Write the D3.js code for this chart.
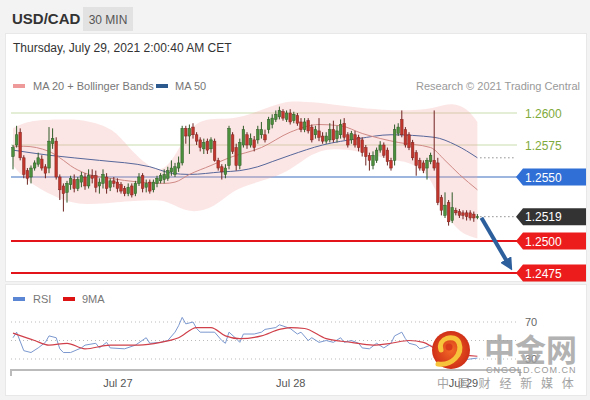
<!DOCTYPE html>
<html lang="en">
<head>
    <meta charset="UTF-8">
    <title>USD/CAD 30 MIN</title>
    <script src="https://d3js.org/d3.v7.min.js"></script>
    <style>
        body {
            margin: 0;
            padding: 0;
            background-color: #f3f3f3;
            font-family: Arial, "Liberation Sans", sans-serif;
        }
        svg { display: block; }
    </style>
</head>
<body>
    <div id="chart"></div>
    <script>
        // ---------------- data ----------------
        var symbol = "USD/CAD", period = "30 MIN";
        var stamp = "Thursday, July 29, 2021 2:00:40 AM CET";
        var firstBar = new Date(2021, 6, 26, 9, 30);   // first 30 min candle
        var barMinutes = 30;

        var open = [
            1.2566, 1.2575, 1.2585, 1.2565, 1.2555, 1.2550, 1.2557, 1.2560, 1.2564, 1.2558,
            1.2557, 1.2576, 1.2578, 1.2550, 1.2543, 1.2538, 1.2544, 1.2548, 1.2541, 1.2546,
            1.2550, 1.2543, 1.2551, 1.2551, 1.2543, 1.2545, 1.2550, 1.2542, 1.2547, 1.2546,
            1.2544, 1.2541, 1.2537, 1.2543, 1.2537, 1.2545, 1.2551, 1.2542, 1.2546, 1.2540,
            1.2545, 1.2547, 1.2548, 1.2549, 1.2554, 1.2552, 1.2557, 1.2561, 1.2588, 1.2582,
            1.2589, 1.2583, 1.2579, 1.2572, 1.2578, 1.2572, 1.2578, 1.2563, 1.2558, 1.2552,
            1.2559, 1.2583, 1.2573, 1.2559, 1.2575, 1.2583, 1.2575, 1.2579, 1.2579, 1.2583,
            1.2583, 1.2587, 1.2591, 1.2595, 1.2597, 1.2601, 1.2595, 1.2600, 1.2594, 1.2598,
            1.2593, 1.2587, 1.2594, 1.2589, 1.2583, 1.2586, 1.2582, 1.2578, 1.2579, 1.2587,
            1.2580, 1.2583, 1.2592, 1.2583, 1.2579, 1.2583, 1.2581, 1.2579, 1.2573, 1.2567,
            1.2559, 1.2563, 1.2571, 1.2575, 1.2571, 1.2563, 1.2563, 1.2584, 1.2595, 1.2587,
            1.2583, 1.2577, 1.2569, 1.2563, 1.2561, 1.2557, 1.2562, 1.2563, 1.2561, 1.2534,
            1.2520, 1.2530, 1.2516, 1.2524, 1.2523, 1.2522, 1.2522, 1.2522, 1.2521, 1.2519
        ];
        var high = [
            1.2575, 1.2590, 1.2588, 1.2567, 1.2557, 1.2559, 1.2563, 1.2569, 1.2567, 1.2560,
            1.2589, 1.2588, 1.2581, 1.2552, 1.2545, 1.2547, 1.2551, 1.2552, 1.2550, 1.2554,
            1.2553, 1.2556, 1.2556, 1.2555, 1.2549, 1.2556, 1.2553, 1.2549, 1.2550, 1.2549,
            1.2546, 1.2543, 1.2545, 1.2545, 1.2547, 1.2553, 1.2553, 1.2548, 1.2548, 1.2548,
            1.2551, 1.2553, 1.2556, 1.2558, 1.2563, 1.2561, 1.2566, 1.2590, 1.2590, 1.2591,
            1.2592, 1.2585, 1.2581, 1.2580, 1.2580, 1.2581, 1.2580, 1.2565, 1.2560, 1.2560,
            1.2590, 1.2585, 1.2576, 1.2580, 1.2590, 1.2585, 1.2584, 1.2582, 1.2590, 1.2593,
            1.2587, 1.2597, 1.2599, 1.2602, 1.2605, 1.2603, 1.2602, 1.2603, 1.2601, 1.2600,
            1.2596, 1.2596, 1.2596, 1.2591, 1.2590, 1.2596, 1.2585, 1.2585, 1.2592, 1.2594,
            1.2590, 1.2595, 1.2596, 1.2585, 1.2586, 1.2586, 1.2583, 1.2581, 1.2575, 1.2569,
            1.2570, 1.2573, 1.2578, 1.2577, 1.2573, 1.2565, 1.2591, 1.2592, 1.2602, 1.2589,
            1.2585, 1.2579, 1.2571, 1.2565, 1.2563, 1.2565, 1.2569, 1.2602, 1.2565, 1.2536,
            1.2538, 1.2532, 1.2538, 1.2526, 1.2525, 1.2524, 1.2524, 1.2524, 1.2523, 1.2521
        ];
        var low = [
            1.2556, 1.2573, 1.2563, 1.2549, 1.2544, 1.2545, 1.2555, 1.2558, 1.2555, 1.2549,
            1.2553, 1.2572, 1.2548, 1.2532, 1.2523, 1.2530, 1.2540, 1.2538, 1.2539, 1.2542,
            1.2540, 1.2541, 1.2545, 1.2538, 1.2537, 1.2541, 1.2537, 1.2539, 1.2542, 1.2538,
            1.2537, 1.2535, 1.2535, 1.2534, 1.2535, 1.2543, 1.2538, 1.2538, 1.2537, 1.2538,
            1.2542, 1.2545, 1.2545, 1.2547, 1.2551, 1.2550, 1.2554, 1.2559, 1.2576, 1.2568,
            1.2580, 1.2575, 1.2570, 1.2568, 1.2568, 1.2569, 1.2562, 1.2555, 1.2548, 1.2549,
            1.2556, 1.2568, 1.2555, 1.2556, 1.2573, 1.2572, 1.2573, 1.2570, 1.2576, 1.2580,
            1.2577, 1.2584, 1.2588, 1.2593, 1.2595, 1.2594, 1.2593, 1.2591, 1.2592, 1.2590,
            1.2585, 1.2585, 1.2584, 1.2577, 1.2580, 1.2578, 1.2576, 1.2576, 1.2577, 1.2577,
            1.2577, 1.2580, 1.2579, 1.2573, 1.2576, 1.2573, 1.2570, 1.2566, 1.2559, 1.2555,
            1.2556, 1.2561, 1.2569, 1.2565, 1.2559, 1.2555, 1.2559, 1.2582, 1.2581, 1.2573,
            1.2571, 1.2563, 1.2551, 1.2555, 1.2553, 1.2548, 1.2560, 1.2555, 1.2528, 1.2520,
            1.2518, 1.2512, 1.2514, 1.2520, 1.2518, 1.2517, 1.2516, 1.2516, 1.2515, 1.2517
        ];
        var close = [
            1.2573, 1.2583, 1.2565, 1.2552, 1.2549, 1.2557, 1.2561, 1.2565, 1.2557, 1.2553,
            1.2578, 1.2580, 1.2550, 1.2540, 1.2537, 1.2545, 1.2549, 1.2541, 1.2548, 1.2551,
            1.2543, 1.2551, 1.2549, 1.2542, 1.2546, 1.2552, 1.2541, 1.2547, 1.2545, 1.2541,
            1.2539, 1.2537, 1.2542, 1.2536, 1.2545, 1.2550, 1.2541, 1.2545, 1.2539, 1.2546,
            1.2549, 1.2551, 1.2552, 1.2555, 1.2557, 1.2558, 1.2561, 1.2588, 1.2582, 1.2588,
            1.2583, 1.2578, 1.2573, 1.2577, 1.2571, 1.2579, 1.2563, 1.2557, 1.2554, 1.2557,
            1.2588, 1.2570, 1.2559, 1.2577, 1.2587, 1.2575, 1.2580, 1.2573, 1.2587, 1.2587,
            1.2579, 1.2595, 1.2596, 1.2599, 1.2602, 1.2596, 1.2600, 1.2593, 1.2599, 1.2592,
            1.2587, 1.2593, 1.2586, 1.2579, 1.2587, 1.2581, 1.2578, 1.2582, 1.2587, 1.2579,
            1.2586, 1.2591, 1.2581, 1.2575, 1.2584, 1.2575, 1.2573, 1.2569, 1.2566, 1.2563,
            1.2567, 1.2571, 1.2575, 1.2567, 1.2562, 1.2557, 1.2587, 1.2589, 1.2583, 1.2575,
            1.2573, 1.2565, 1.2559, 1.2557, 1.2555, 1.2563, 1.2567, 1.2557, 1.2530, 1.2524,
            1.2528, 1.2515, 1.2526, 1.2522, 1.2520, 1.2520, 1.2519, 1.2518, 1.2518, 1.2519
        ];

        // moving averages / bands at some bars (bar index, price)
        var ma20Idx = [0, 3, 10, 13, 17, 21, 27, 35, 42, 45, 49, 55, 60, 69, 77, 85, 91, 97, 107, 116, 120, 124, 129];
        var ma20 = [1.2574, 1.2574, 1.2570, 1.2565, 1.2557, 1.2552, 1.2549, 1.2546, 1.2545, 1.2546, 1.2552, 1.2559, 1.2565,
            1.2573, 1.2585, 1.2591, 1.2590, 1.2584, 1.2577, 1.2573, 1.2563, 1.2552, 1.2540];
        var ma50Idx = [0, 10, 24, 38, 44, 49, 58, 63, 68, 72, 77, 86, 96, 105, 117, 123, 129];
        var ma50 = [1.2571, 1.2567, 1.2563, 1.2558, 1.2553, 1.2552, 1.2554, 1.2555, 1.2558, 1.2562, 1.2567, 1.2575,
            1.2580, 1.2583, 1.2581, 1.2575, 1.2565];
        var bandIdx = [0, 4, 13, 20, 28, 32, 38, 42, 46, 50, 56, 61, 68, 75, 80, 86, 96, 105, 110, 115, 118, 122, 126, 129];
        var bandUp = [1.2588, 1.2594, 1.2595, 1.2595, 1.2588, 1.2573, 1.2557, 1.2554, 1.2571, 1.2593, 1.2596, 1.2595,
            1.2601, 1.2609, 1.2609, 1.2608, 1.2604, 1.2602, 1.2602, 1.2603, 1.2605, 1.2608, 1.2604, 1.2593];
        var bandLow = [1.2559, 1.2546, 1.2532, 1.2528, 1.2530, 1.2531, 1.2532, 1.2532, 1.2526, 1.2522, 1.2526, 1.2540,
            1.2546, 1.2552, 1.2562, 1.2573, 1.2571, 1.2563, 1.2562, 1.2554, 1.2536, 1.2512, 1.2504, 1.2502];

        // RSI panel
        var rsiIdx = [0, 1, 3, 5, 7, 9, 10, 12, 13, 14, 16, 19, 20, 23, 24, 26, 27, 31, 34, 37, 38, 41, 43, 45, 46, 47,
            48, 50, 51, 52, 56, 58, 59, 60, 62, 63, 64, 67, 69, 70, 73, 74, 77, 79, 80, 82, 83, 85, 87, 89, 91, 92, 94,
            96, 97, 99, 101, 103, 105, 106, 108, 109, 110, 112, 113, 114, 116, 118, 121, 125, 129];
        var rsi = [53, 59, 39, 37, 42, 48, 55, 53, 41, 37, 37, 42, 45, 47, 42, 48, 42, 41, 45, 53, 47, 48, 50, 59, 66, 75,
            68, 70, 63, 59, 59, 50, 47, 59, 52, 48, 57, 57, 59, 62, 64, 67, 63, 57, 59, 50, 53, 48, 50, 48, 53, 48, 50,
            47, 42, 41, 47, 42, 47, 55, 59, 52, 47, 45, 41, 42, 45, 36, 31, 29, 31];
        var rsiMaIdx = [0, 6, 10, 15, 20, 27, 35, 41, 46, 51, 55, 59, 63, 69, 74, 77, 81, 87, 94, 100, 105, 110, 114, 117, 122, 129];
        var rsiMa = [58, 50, 45, 47, 41, 45, 45, 48, 53, 64, 64, 55, 52, 55, 62, 64, 63, 52, 48, 45, 47, 50, 48, 42, 36, 33];
        var rsiGuides = [70, 50, 30];
        var rsiLabels = [70, 30];

        // key levels
        var levels = [1.2600, 1.2575, 1.2550, 1.2500, 1.2475];
        var levelKind = ["res", "res", "pivot", "sup", "sup"];
        var lastPrice = 1.2519;
        var dayTicks = [new Date(2021, 6, 27), new Date(2021, 6, 28), new Date(2021, 6, 29)];

        // ---------------- layout ----------------
        var W = 590, H = 400;
        var svg = d3.select("#chart").append("svg")
            .attr("width", W).attr("height", H);
        var defs = svg.append("defs");

        var lastBar = d3.timeMinute.offset(firstBar, barMinutes * (close.length - 1));
        var x = d3.scaleTime().domain([firstBar, lastBar]).range([13, 477.4]);
        function xi(i) { return x(d3.timeMinute.offset(firstBar, barMinutes * i)); }
        var y = d3.scaleLinear().domain([1.2475, 1.2600]).range([273, 113]);
        var yr = d3.scaleLinear().domain([30, 70]).range([359, 322]);

        // panels
        svg.append("rect").attr("x", 0).attr("y", 0).attr("width", W).attr("height", 33).attr("fill", "#f3f3f3");
        svg.append("rect").attr("x", 5.5).attr("y", 33.5).attr("width", 581).attr("height", 248)
            .attr("fill", "#fff").attr("stroke", "#e8e8e8");
        svg.append("rect").attr("x", 5.5).attr("y", 284.5).attr("width", 581).attr("height", 111)
            .attr("fill", "#fff").attr("stroke", "#e8e8e8");

        // header
        svg.append("text").attr("x", 12).attr("y", 24).text(symbol)
            .style("font-size", "15px").style("font-weight", "bold").attr("fill", "#333");
        svg.append("rect").attr("x", 83).attr("y", 7).attr("width", 50).attr("height", 24).attr("fill", "#e2e2e2");
        svg.append("text").attr("x", 108).attr("y", 23.5).attr("text-anchor", "middle").text(period)
            .style("font-size", "12px").attr("fill", "#555");
        svg.append("text").attr("x", 13).attr("y", 52).text(stamp)
            .style("font-size", "12px").attr("fill", "#333");

        // legend main
        var leg = svg.append("g").style("font-size", "11px").attr("fill", "#777");
        leg.append("rect").attr("x", 13).attr("y", 84).attr("width", 12).attr("height", 4).attr("fill", "#ef9a9a");
        leg.append("text").attr("x", 33).attr("y", 90).text("MA 20 + Bollinger Bands");
        leg.append("rect").attr("x", 156).attr("y", 84).attr("width", 12).attr("height", 4).attr("fill", "#2c5a8e");
        leg.append("text").attr("x", 175).attr("y", 90).text("MA 50");
        leg.append("text").attr("x", 580).attr("y", 90).attr("text-anchor", "end").attr("fill", "#999")
            .text("Research \u00a9 2021 Trading Central");

        // level lines
        var lineColor = { res: "#c9dbab", pivot: "#3a6fbf", sup: "#e3151b" };
        levels.forEach(function (v, k) {
            svg.append("line")
                .attr("x1", 11).attr("x2", 517)
                .attr("y1", y(v)).attr("y2", y(v))
                .attr("stroke", lineColor[levelKind[k]])
                .attr("stroke-width", levelKind[k] == "sup" ? 2 : 1.2);
        });

        // bollinger band
        var band = bandIdx.map(function (b, k) { return { i: b, hi: bandUp[k], lo: bandLow[k] }; });
        svg.append("path").datum(band)
            .attr("d", d3.area().x(function (d) { return xi(d.i); })
                .y0(function (d) { return y(d.lo); })
                .y1(function (d) { return y(d.hi); })
                .curve(d3.curveBasis))
            .attr("fill", "#f4a8a8").attr("opacity", 0.3);

        // moving averages
        function maLine(idx, vals, color) {
            var pts = idx.map(function (b, k) { return [xi(b), y(vals[k])]; });
            svg.append("path").datum(pts)
                .attr("d", d3.line().curve(d3.curveMonotoneX))
                .attr("fill", "none").attr("stroke", color).attr("stroke-width", 1);
        }
        maLine(ma50Idx, ma50, "#56679a");
        maLine(ma20Idx, ma20, "#cf8b86");

        // candles
        var bars = d3.range(close.length);
        var up = function (i) { return close[i] >= open[i]; };
        svg.append("g").selectAll("line").data(bars).enter().append("line")
            .attr("x1", function (i) { return xi(i); }).attr("x2", function (i) { return xi(i); })
            .attr("y1", function (i) { return y(high[i]); }).attr("y2", function (i) { return y(low[i]); })
            .attr("stroke", function (i) { return up(i) ? "#2f5a27" : "#6e2420"; })
            .attr("stroke-width", 1);
        svg.append("g").selectAll("rect").data(bars).enter().append("rect")
            .attr("x", function (i) { return xi(i) - 1.3; })
            .attr("width", 2.6)
            .attr("y", function (i) { return y(Math.max(open[i], close[i])); })
            .attr("height", function (i) { return Math.max(1, Math.abs(y(open[i]) - y(close[i]))); })
            .attr("fill", function (i) { return up(i) ? "#4b8f3c" : "#c2352c"; })
            .attr("stroke", function (i) { return up(i) ? "#2f5a27" : "#7e2621"; })
            .attr("stroke-width", 0.5);

        // dotted projections
        var endX = xi(close.length - 1);
        svg.append("line").attr("x1", endX + 3).attr("x2", 515)
            .attr("y1", y(ma50[ma50.length - 1])).attr("y2", y(ma50[ma50.length - 1]))
            .attr("stroke", "#555").attr("stroke-dasharray", "1,3");
        svg.append("line").attr("x1", endX + 3).attr("x2", 515)
            .attr("y1", y(lastPrice)).attr("y2", y(lastPrice))
            .attr("stroke", "#555").attr("stroke-dasharray", "1,3");

        // arrow toward the target
        defs.append("marker")
            .attr("id", "head").attr("viewBox", "0 0 10 10")
            .attr("refX", 5).attr("refY", 5)
            .attr("markerWidth", 3.2).attr("markerHeight", 3.2)
            .attr("orient", "auto")
            .append("path").attr("d", "M0,0 L10,5 L0,10 Z").attr("fill", "#2e5f9d");
        svg.append("line")
            .attr("x1", endX + 4).attr("y1", y(lastPrice) + 1)
            .attr("x2", 509).attr("y2", y(levels[4]) - 8)
            .attr("stroke", "#2e5f9d").attr("stroke-width", 4)
            .attr("marker-end", "url(#head)");

        // right labels
        function tag(v, fill) {
            var yc = y(v), h = 17, xl = 516;
            svg.append("path")
                .attr("d", "M" + xl + "," + yc + "L" + (xl + 7) + "," + (yc - h / 2) + "H586V" + (yc + h / 2) + "H" + (xl + 7) + "Z")
                .attr("fill", fill);
            svg.append("text").attr("x", 525).attr("y", yc + 4.5).text(v.toFixed(4))
                .style("font-size", "12px").attr("fill", "#fff");
        }
        levels.forEach(function (v, k) {
            if (levelKind[k] == "res") {
                svg.append("text").attr("x", 525).attr("y", y(v) + 4.5).text(v.toFixed(4))
                    .style("font-size", "12px").attr("fill", "#7faa3c");
            }
        });
        tag(levels[2], "#2f6fd6");
        tag(lastPrice, "#333333");
        tag(levels[3], "#ec1c1c");
        tag(levels[4], "#ec1c1c");

        // ---------------- RSI panel ----------------
        var rl = svg.append("g").style("font-size", "11px").attr("fill", "#777");
        rl.append("rect").attr("x", 13).attr("y", 297).attr("width", 12).attr("height", 4).attr("fill", "#5b86d4");
        rl.append("text").attr("x", 33).attr("y", 303).text("RSI");
        rl.append("rect").attr("x", 63).attr("y", 297).attr("width", 12).attr("height", 4).attr("fill", "#dd1313");
        rl.append("text").attr("x", 82).attr("y", 303).text("9MA");

        rsiGuides.forEach(function (g) {
            svg.append("line").attr("x1", 11).attr("x2", 516).attr("y1", yr(g)).attr("y2", yr(g))
                .attr("stroke", "#bbb").attr("stroke-dasharray", "1,3");
        });
        rsiLabels.forEach(function (g) {
            svg.append("text").attr("x", 525).attr("y", yr(g) + 4).text(g)
                .style("font-size", "11px").attr("fill", "#666");
        });

        var rsiPts = rsiIdx.map(function (b, k) { return [xi(b), yr(rsi[k])]; });
        svg.append("path").datum(rsiPts).attr("d", d3.line())
            .attr("fill", "none").attr("stroke", "#7b98cf").attr("stroke-width", 1);
        var maPts = rsiMaIdx.map(function (b, k) { return [xi(b), yr(rsiMa[k])]; });
        svg.append("path").datum(maPts).attr("d", d3.line().curve(d3.curveMonotoneX))
            .attr("fill", "none").attr("stroke", "#d0404a").attr("stroke-width", 1.2);

        // time axis
        var ax = svg.append("g").attr("transform", "translate(0,370)")
            .call(d3.axisBottom(x).tickValues(dayTicks).tickFormat(d3.timeFormat("%b %d"))
                .tickSize(0).tickPadding(9));
        ax.select(".domain").remove();
        ax.selectAll("text").style("font-size", "11px").attr("fill", "#555")
            .style("font-family", "Arial, 'Liberation Sans', sans-serif");
        svg.append("path").attr("d", "M11,376V370H520V376")
            .attr("fill", "none").attr("stroke", "#bbb").attr("stroke-width", 2);

        // watermark
        var wm = svg.append("g");
        var grad = defs.append("radialGradient").attr("id", "logo");
        grad.append("stop").attr("offset", "0%").attr("stop-color", "#f36a26");
        grad.append("stop").attr("offset", "100%").attr("stop-color", "#cf2f17");
        wm.append("circle").attr("cx", 451).attr("cy", 350).attr("r", 19).attr("fill", "url(#logo)");
        wm.append("path")
            .attr("d", "M441,350 C437,338 455,333 459,343 C463,354 452,366 438,364")
            .attr("fill", "none").attr("stroke", "#f7c33b").attr("stroke-width", 5).attr("stroke-linecap", "round");
        wm.append("circle").attr("cx", 449).attr("cy", 347).attr("r", 3.5).attr("fill", "#d8391b");
        wm.append("text").attr("x", 484).attr("y", 361).text("中金网")
            .style("font-family", "'Noto Sans CJK SC', sans-serif").style("font-size", "31px")
            .style("font-weight", "bold").attr("fill", "#a0a0a0").attr("opacity", 0.8);
        wm.append("text").attr("x", 486).attr("y", 373).text("CNGOLD.COM.CN")
            .style("font-size", "9px").style("letter-spacing", "1px").attr("fill", "#9a9a9a");
        wm.append("text").attr("x", 437).attr("y", 388).text("中国财经新媒体")
            .style("font-family", "'Noto Sans CJK SC', sans-serif").style("font-size", "12px")
            .style("letter-spacing", "8.8px").attr("fill", "#999").attr("opacity", 0.9);
    </script>
</body>
</html>
